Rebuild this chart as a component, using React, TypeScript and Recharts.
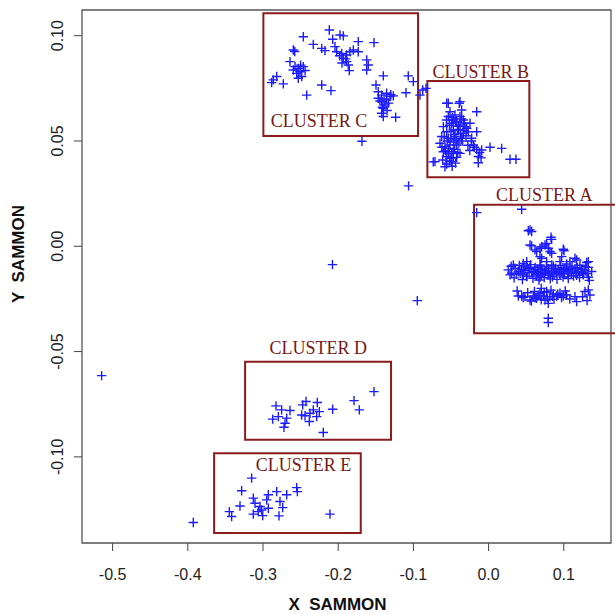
import React from 'react';
import { ScatterChart, Scatter, XAxis, YAxis, ReferenceArea } from 'recharts';

const X_DOMAIN: [number, number] = [-0.5407, 0.1628];
const Y_DOMAIN: [number, number] = [-0.1409, 0.1122];
const X_TICKS = [-0.5, -0.4, -0.3, -0.2, -0.1, 0, 0.1];
const Y_TICKS = [-0.1, -0.05, 0, 0.05, 0.1];

const clusterA: [number, number][] = [
  [-0.0158, 0.016], [0.044, 0.0176], [0.0528, 0.0074], [0.0573, 0.007], [0.0551, 0.0006],
  [0.0706, -0.0002], [0.0773, 0.0014], [0.0839, 0.0033], [0.0617, -0.0017], [0.0816, -0.0025],
  [0.0993, -0.0014], [0.0684, -0.0049], [0.0507, -0.0073], [0.1149, -0.0057],
  [0.0551, 0.0078], [0.083, 0.0043], [0.0573, 0.0002], [0.075, 0.0006], [0.0794, -0.0009],
  [0.0684, -0.0009], [0.0639, -0.0025], [0.0839, -0.0033], [0.1003, -0.0021], [0.0972, -0.0049],
  [0.0706, -0.0057], [0.0462, -0.0081], [0.1171, -0.0065], [0.1326, -0.0073],
  [0.0262, -0.0112], [0.0307, -0.0128], [0.0351, -0.0104], [0.0395, -0.012], [0.044, -0.0109],
  [0.0484, -0.0115], [0.0528, -0.0106], [0.0573, -0.0125], [0.0617, -0.0112], [0.0661, -0.0119],
  [0.0706, -0.0109], [0.075, -0.0115], [0.0794, -0.0106], [0.0839, -0.0122], [0.0883, -0.0112],
  [0.0927, -0.0109], [0.0972, -0.0119], [0.1016, -0.0106], [0.106, -0.0115], [0.1105, -0.0112],
  [0.1149, -0.0106], [0.1193, -0.0119], [0.1238, -0.0109], [0.1282, -0.0112], [0.1326, -0.01],
  [0.1371, -0.012], [0.0329, -0.0089], [0.0506, -0.0089], [0.0684, -0.0089], [0.0861, -0.0093],
  [0.1038, -0.0084], [0.1215, -0.009], [0.0462, -0.0136], [0.0639, -0.0141], [0.0816, -0.0136],
  [0.0994, -0.0131], [0.1171, -0.0138], [0.0285, -0.0136], [0.1326, -0.0147], [0.1082, -0.0073],
  [0.0949, -0.0073], [0.0772, -0.0073], [0.1304, -0.0077], [0.0506, -0.0144], [0.0684, -0.0147],
  [0.055, -0.01], [0.09, -0.0125], [0.11, -0.0128], [0.075, -0.0128], [0.042, -0.0128], [0.125, -0.0125],
  [0.03, -0.0095], [0.034, -0.015], [0.037, -0.0132], [0.041, -0.0091], [0.045, -0.0158],
  [0.047, -0.0098], [0.051, -0.0142], [0.054, -0.0125], [0.056, -0.0087], [0.059, -0.0152],
  [0.062, -0.0101], [0.064, -0.0133], [0.067, -0.016], [0.069, -0.0094], [0.072, -0.0123],
  [0.074, -0.0149], [0.077, -0.0098], [0.079, -0.0137], [0.082, -0.0155], [0.084, -0.0089],
  [0.087, -0.0131], [0.089, -0.0104], [0.091, -0.0157], [0.094, -0.0121], [0.096, -0.0092],
  [0.099, -0.0146], [0.101, -0.0127], [0.104, -0.0099], [0.106, -0.0153], [0.108, -0.0118],
  [0.111, -0.0094], [0.113, -0.0141], [0.116, -0.0126], [0.118, -0.0102], [0.121, -0.0148],
  [0.123, -0.0119], [0.126, -0.0136], [0.129, -0.0097], [0.131, -0.0129], [0.134, -0.0162],
  [0.06, -0.012], [0.08, -0.0118], [0.1, -0.011], [0.085, -0.0145], [0.065, -0.011],
  [0.095, -0.0135], [0.105, -0.013], [0.07, -0.0135],
  [0.0395, -0.0236], [0.044, -0.0236], [0.0484, -0.0239], [0.0551, -0.0255], [0.0595, -0.0236],
  [0.0684, -0.0223], [0.0728, -0.0236], [0.0772, -0.0215], [0.0816, -0.0239], [0.0861, -0.0226],
  [0.0905, -0.0236], [0.0949, -0.0223], [0.0994, -0.0236], [0.1038, -0.0231], [0.1149, -0.0239],
  [0.1171, -0.0263], [0.1282, -0.0215], [0.1326, -0.0207], [0.1348, -0.0231], [0.0794, -0.0271],
  [0.075, -0.0255], [0.0639, -0.0247], [0.0794, -0.0342], [0.0794, -0.0362],
  [0.038, -0.0212], [0.046, -0.0243], [0.052, -0.0221], [0.057, -0.026], [0.061, -0.0214],
  [0.066, -0.0232], [0.07, -0.0254], [0.074, -0.0219], [0.078, -0.0246], [0.083, -0.0208],
  [0.087, -0.0252], [0.092, -0.0228], [0.097, -0.0244], [0.102, -0.0212], [0.108, -0.025],
  [0.125, -0.024], [0.131, -0.0258], [0.07, -0.02], [0.085, -0.0238], [0.062, -0.0245],
];

const clusterB: [number, number][] = [
  [-0.0557, 0.0679], [-0.039, 0.0679], [-0.0158, 0.0639], [-0.0513, 0.0639], [-0.0447, 0.0624],
  [-0.038, 0.0616], [-0.0336, 0.06], [-0.0424, 0.0592], [-0.0491, 0.0584], [-0.038, 0.0576],
  [-0.0314, 0.0568], [-0.0247, 0.0584], [-0.0602, 0.0568], [-0.0557, 0.0544], [-0.0469, 0.0552],
  [-0.0403, 0.0552], [-0.0336, 0.0537], [-0.027, 0.0544], [-0.0158, 0.0544], [-0.0624, 0.0521],
  [-0.0536, 0.0513], [-0.0447, 0.0521], [-0.0358, 0.0513], [-0.0225, 0.0513], [-0.0646, 0.0489],
  [-0.058, 0.0473], [-0.0513, 0.0481], [-0.0424, 0.0481], [-0.0203, 0.0481], [-0.0158, 0.046],
  [-0.0092, 0.0457], [0.0019, 0.047], [0.0174, 0.0465], [-0.0602, 0.0449], [-0.0536, 0.0441],
  [-0.0469, 0.0449], [-0.038, 0.0441], [-0.0513, 0.0418], [-0.0424, 0.0422], [-0.0137, 0.0426],
  [-0.0137, 0.0397], [-0.0713, 0.0402], [-0.0557, 0.0391], [-0.0491, 0.0402], [0.0285, 0.0413],
  [0.0364, 0.0413], [-0.058, 0.0378], [-0.0469, 0.06], [-0.0358, 0.0647], [-0.0536, 0.0616],
  [-0.056, 0.06], [-0.052, 0.0575], [-0.048, 0.061], [-0.044, 0.059], [-0.04, 0.057],
  [-0.036, 0.0605], [-0.032, 0.0585], [-0.029, 0.056], [-0.05, 0.0545], [-0.0455, 0.053],
  [-0.0415, 0.0555], [-0.0375, 0.0535], [-0.0335, 0.055], [-0.03, 0.0525], [-0.059, 0.052],
  [-0.055, 0.05], [-0.0505, 0.051], [-0.0465, 0.0495], [-0.043, 0.0505], [-0.0395, 0.049],
  [-0.035, 0.05], [-0.062, 0.047], [-0.0575, 0.0455], [-0.053, 0.0465], [-0.049, 0.044],
  [-0.045, 0.046], [-0.041, 0.0445], [-0.056, 0.0425], [-0.052, 0.0405], [-0.047, 0.042],
  [-0.044, 0.0395], [-0.0485, 0.038], [-0.061, 0.041], [-0.0275, 0.048], [-0.025, 0.0455],
  [-0.023, 0.05], [-0.019, 0.047], [-0.012, 0.0445], [-0.01, 0.042], [-0.0536, 0.0679],
  [-0.038, 0.0687], [-0.0736, 0.0401],
];

const clusterC: [number, number][] = [
  [-0.2464, 0.0995], [-0.2118, 0.1027], [-0.1976, 0.1003], [-0.1932, 0.0999], [-0.2331, 0.0959],
  [-0.1733, 0.0972], [-0.1524, 0.0967], [-0.2597, 0.0932], [-0.2578, 0.0925], [-0.2219, 0.094],
  [-0.2176, 0.0929], [-0.2043, 0.0948], [-0.202, 0.0924], [-0.1954, 0.0916], [-0.1887, 0.0908],
  [-0.1843, 0.0924], [-0.1799, 0.0932], [-0.1733, 0.0924], [-0.1932, 0.0893], [-0.1887, 0.0877],
  [-0.1866, 0.0861], [-0.1852, 0.0834], [-0.1621, 0.0885], [-0.16, 0.0861], [-0.1621, 0.0837],
  [-0.2641, 0.0877], [-0.2574, 0.0853], [-0.2531, 0.0845], [-0.2464, 0.0853], [-0.2508, 0.0829],
  [-0.2552, 0.0821], [-0.2597, 0.0837], [-0.2485, 0.0806], [-0.2531, 0.0798], [-0.2863, 0.079],
  [-0.2818, 0.0806], [-0.2885, 0.0777], [-0.273, 0.0771], [-0.2419, 0.0718], [-0.2219, 0.0766],
  [-0.2096, 0.0739], [-0.14, 0.0809], [-0.1068, 0.0809], [-0.1001, 0.0782], [-0.1098, 0.0729],
  [-0.1497, 0.0766], [-0.1467, 0.0734], [-0.1422, 0.0718], [-0.1356, 0.0727], [-0.1311, 0.0711],
  [-0.1267, 0.0714], [-0.1467, 0.0703], [-0.1422, 0.0687], [-0.1378, 0.0671], [-0.14, 0.0655],
  [-0.1356, 0.0695], [-0.1422, 0.0632], [-0.14, 0.0616], [-0.1236, 0.0613], [-0.0876, 0.0742],
  [-0.0912, 0.0718], [-0.0832, 0.075], [-0.2073, 0.0983],
  [-0.1445, 0.069], [-0.139, 0.07], [-0.133, 0.068], [-0.141, 0.066], [-0.135, 0.0645],
  [-0.13, 0.072], [-0.198, 0.0905], [-0.19, 0.089], [-0.195, 0.087], [-0.25, 0.086], [-0.244, 0.0835],
];

const clusterD: [number, number][] = [
  [-0.1524, -0.069], [-0.179, -0.0733], [-0.1719, -0.0777], [-0.2074, -0.0774], [-0.2428, -0.0737],
  [-0.2278, -0.0742], [-0.2472, -0.0753], [-0.2331, -0.0777], [-0.2251, -0.0785], [-0.2375, -0.0793],
  [-0.2486, -0.0801], [-0.2441, -0.0805], [-0.2286, -0.0809], [-0.2384, -0.0832], [-0.2827, -0.0758],
  [-0.2752, -0.0777], [-0.2641, -0.078], [-0.2871, -0.0821], [-0.2796, -0.0809], [-0.2685, -0.0816],
  [-0.2707, -0.084], [-0.2721, -0.0859], [-0.2198, -0.0884],
];

const clusterE: [number, number][] = [
  [-0.3151, -0.1101], [-0.3284, -0.1161], [-0.2552, -0.1146], [-0.2543, -0.1165], [-0.2685, -0.118],
  [-0.2818, -0.1165], [-0.2929, -0.118], [-0.2774, -0.1212], [-0.3129, -0.1196], [-0.3106, -0.122],
  [-0.2951, -0.1204], [-0.304, -0.1236], [-0.3018, -0.1252], [-0.2929, -0.1244], [-0.2738, -0.1241],
  [-0.3306, -0.1233], [-0.3448, -0.126], [-0.3417, -0.1283], [-0.3129, -0.1272], [-0.3004, -0.1279],
  [-0.2787, -0.128], [-0.2109, -0.1272], [-0.3062, -0.126],
];

const outliers: [number, number][] = [
  [-0.3927, -0.1312], [-0.5146, -0.0614], [-0.2076, -0.0087], [-0.0948, -0.0258],
  [-0.1064, 0.0287], [-0.1684, 0.0499],
];

const clusterBoxes = [
  { name: 'A', x1: -0.0193, x2: 0.175, y1: -0.0413, y2: 0.0197 },
  { name: 'B', x1: -0.0814, x2: 0.0542, y1: 0.0328, y2: 0.0785 },
  { name: 'C', x1: -0.2995, x2: -0.0938, y1: 0.0524, y2: 0.1106 },
  { name: 'D', x1: -0.3238, x2: -0.1297, y1: -0.0919, y2: -0.0548 },
  { name: 'E', x1: -0.365, x2: -0.17, y1: -0.1362, y2: -0.0983 },
];

const clusterLabels = [
  { name: 'CLUSTER A', x: 0.01, y: 0.0215 },
  { name: 'CLUSTER B', x: -0.0745, y: 0.0797 },
  { name: 'CLUSTER C', x: -0.2896, y: 0.0568 },
  { name: 'CLUSTER D', x: -0.2914, y: -0.0511 },
  { name: 'CLUSTER E', x: -0.3096, y: -0.1065 },
];

const toPts = (arr: [number, number][]) => arr.map(([x, y]) => ({ x, y }));

const BLUE = '#1c1cff';
const RED = '#8b1c1c';
const SANS = "'Liberation Sans', Arial, sans-serif";
const SERIF = "'Liberation Serif', 'Times New Roman', serif";

const Plus = (props: any) => {
  const { cx, cy } = props;
  if (cx == null || cy == null) return null;
  const h = 4.7;
  return (
    <path
      d={`M${cx - h},${cy}H${cx + h}M${cx},${cy - h}V${cy + h}`}
      stroke={BLUE}
      strokeWidth={1.4}
      fill="none"
    />
  );
};

const LabelShape = (props: any) => {
  const { cx, cy, payload } = props;
  if (cx == null || cy == null) return null;
  return (
    <text x={cx} y={cy} fontFamily={SERIF} fontSize={18} fill="#761818" textAnchor="start">
      {payload.name}
    </text>
  );
};

const XTick = (props: any) => {
  const { x, y, payload } = props;
  return (
    <text x={x} y={y + 27} textAnchor="middle" fontFamily={SANS} fontSize={16} fill="#222">
      {Number(payload.value).toFixed(1)}
    </text>
  );
};

const YTick = (props: any) => {
  const { y, payload } = props;
  const tx = 63;
  return (
    <text
      x={tx}
      y={y}
      transform={`rotate(-90 ${tx} ${y})`}
      textAnchor="middle"
      fontFamily={SANS}
      fontSize={16}
      fill="#222"
    >
      {Number(payload.value).toFixed(2)}
    </text>
  );
};

export default function App() {
  return (
    <div style={{ position: 'absolute', left: 0, top: 0, background: '#fff' }}>
      <ScatterChart width={615} height={614} margin={{ top: 10, right: 4, bottom: 0, left: 0 }}>
        <XAxis
          type="number"
          dataKey="x"
          domain={X_DOMAIN}
          ticks={X_TICKS}
          allowDataOverflow
          axisLine={false}
          tickSize={8}
          tickLine={{ stroke: '#444' }}
          tick={<XTick />}
          height={71}
          interval={0}
          label={{
            content: () => (
              <text
                x={337.5}
                y={610}
                textAnchor="middle"
                fontFamily={SANS}
                fontWeight="bold"
                fontSize={17}
                fill="#111"
                style={{ whiteSpace: 'pre' }}
              >
                {'X  SAMMON'}
              </text>
            ),
          }}
        />
        <YAxis
          type="number"
          dataKey="y"
          domain={Y_DOMAIN}
          ticks={Y_TICKS}
          allowDataOverflow
          axisLine={false}
          tickSize={8}
          tickLine={{ stroke: '#444' }}
          tick={<YTick />}
          width={82}
          interval={0}
          label={{
            content: () => (
              <text
                x={24}
                y={254}
                transform="rotate(-90 24 254)"
                textAnchor="middle"
                fontFamily={SANS}
                fontWeight="bold"
                fontSize={17}
                fill="#111"
                style={{ whiteSpace: 'pre' }}
              >
                {'Y  SAMMON'}
              </text>
            ),
          }}
        />
        <ReferenceArea
          x1={X_DOMAIN[0]}
          x2={X_DOMAIN[1]}
          y1={Y_DOMAIN[0]}
          y2={Y_DOMAIN[1]}
          fill="none"
          fillOpacity={0}
          stroke="#555"
          strokeWidth={1.3}
          ifOverflow="visible"
        />
        {clusterBoxes.map((b) => (
          <ReferenceArea
            key={b.name}
            x1={b.x1}
            x2={b.x2}
            y1={b.y1}
            y2={b.y2}
            fill="none"
            fillOpacity={0}
            stroke={RED}
            strokeWidth={2}
            ifOverflow="visible"
          />
        ))}
        <Scatter data={toPts(clusterA)} shape={<Plus />} isAnimationActive={false} />
        <Scatter data={toPts(clusterB)} shape={<Plus />} isAnimationActive={false} />
        <Scatter data={toPts(clusterC)} shape={<Plus />} isAnimationActive={false} />
        <Scatter data={toPts(clusterD)} shape={<Plus />} isAnimationActive={false} />
        <Scatter data={toPts(clusterE)} shape={<Plus />} isAnimationActive={false} />
        <Scatter data={toPts(outliers)} shape={<Plus />} isAnimationActive={false} />
        <Scatter data={clusterLabels} shape={<LabelShape />} isAnimationActive={false} />
      </ScatterChart>
    </div>
  );
}
